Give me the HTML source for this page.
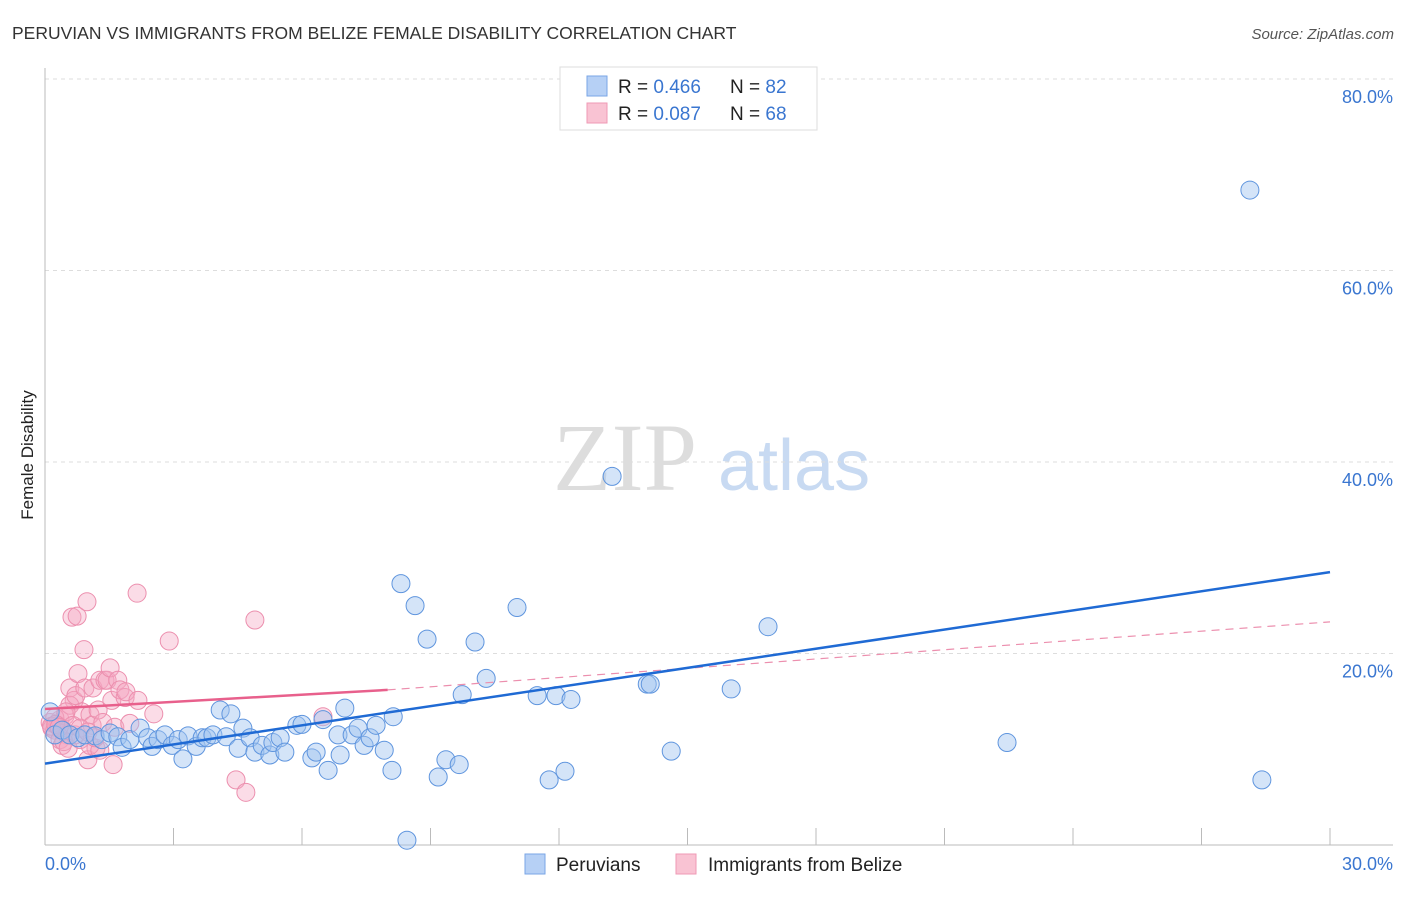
<!DOCTYPE html>
<html><head><meta charset="utf-8"><style>
body{margin:0;background:#fff;font-family:"Liberation Sans",sans-serif}
svg text{font-family:"Liberation Sans",sans-serif}
</style></head><body>
<svg width="1406" height="892" id="chart">
<text x="12" y="39" font-size="17.5" fill="#333">PERUVIAN VS IMMIGRANTS FROM BELIZE FEMALE DISABILITY CORRELATION CHART</text>
<text x="1394" y="39" font-size="15" fill="#555" font-style="italic" text-anchor="end">Source: ZipAtlas.com</text>
<g>
<text x="553" y="490" font-size="96" fill="#ddd" font-family="Liberation Serif" style="font-family:'Liberation Serif',serif">ZIP</text>
<text x="718" y="490" font-size="72" fill="#c8daf2">atlas</text>
</g>
<g id="grid"></g>
<g id="axes"></g>
<g id="marks"></g>
<text transform="translate(33,455) rotate(-90)" font-size="17" fill="#222" text-anchor="middle">Female Disability</text>
<g>
<rect x="560" y="67" width="257" height="63" fill="#fff" stroke="#ddd"/>
<rect x="587" y="76" width="20" height="20" fill="#b6d0f5" stroke="#7aa6e6"/>
<rect x="587" y="103" width="20" height="20" fill="#f9c3d3" stroke="#ef9ab4"/>
<text x="618" y="93" font-size="19" fill="#222">R = <tspan fill="#3a76d0">0.466</tspan></text>
<text x="730" y="93" font-size="19" fill="#222">N = <tspan fill="#3a76d0">82</tspan></text>
<text x="618" y="120" font-size="19" fill="#222">R = <tspan fill="#3a76d0">0.087</tspan></text>
<text x="730" y="120" font-size="19" fill="#222">N = <tspan fill="#3a76d0">68</tspan></text>
</g>
<g>
<rect x="525" y="854" width="20" height="20" fill="#b6d0f5" stroke="#7aa6e6"/>
<text x="556" y="871" font-size="19" fill="#222">Peruvians</text>
<rect x="676" y="854" width="20" height="20" fill="#f9c3d3" stroke="#ef9ab4"/>
<text x="708" y="871" font-size="19" fill="#222">Immigrants from Belize</text>
</g>
</svg>
<script>
const yTicks=[20,40,60,80];
const yTickLabels=["20.0%","40.0%","60.0%","80.0%"];
const xTicks=[0,3,6,9,12,15,18,21,24,27,30];
const blueX=[0.12,0.23,0.40,0.58,0.77,0.93,1.17,1.33,1.52,1.70,1.80,1.98,2.22,2.40,2.50,2.64,2.80,2.97,3.11,3.22,3.34,3.53,3.67,3.78,3.92,4.09,4.23,4.34,4.51,4.62,4.79,4.90,5.07,5.25,5.32,5.49,5.60,5.88,6.00,6.23,6.33,6.49,6.61,6.84,6.89,7.00,7.17,7.31,7.45,7.59,7.73,7.92,8.10,8.13,8.31,8.45,8.64,8.92,9.18,9.36,9.67,9.74,10.04,10.30,11.02,11.49,11.77,11.93,12.14,12.28,13.24,14.06,14.13,14.62,16.02,16.88,22.46,28.13,28.41];
const blueY=[13.9,11.5,12.0,11.5,11.2,11.5,11.4,11.0,11.7,11.3,10.2,11.0,12.2,11.2,10.3,11.0,11.5,10.4,11.0,9.0,11.4,10.3,11.2,11.2,11.5,14.1,11.3,13.7,10.1,12.2,11.2,9.7,10.4,9.4,10.7,11.2,9.7,12.5,12.6,9.1,9.7,13.1,7.8,11.5,9.4,14.3,11.5,12.2,10.4,11.2,12.5,9.9,7.8,13.4,27.3,0.5,25.0,21.5,7.1,8.9,8.4,15.7,21.2,17.4,24.8,15.6,6.8,15.6,7.7,15.2,38.5,16.8,16.8,9.8,16.3,22.8,10.7,68.4,6.8];
const pinkX=[0.12,0.16,0.23,0.30,0.35,0.42,0.47,0.51,0.58,0.63,0.68,0.58,0.72,0.75,0.77,0.82,0.86,0.91,0.93,0.98,1.00,1.05,1.10,1.12,1.19,1.24,1.28,1.35,1.40,1.45,1.52,1.56,1.59,1.63,1.70,1.75,1.87,1.89,1.98,2.17,2.15,2.54,2.90,4.46,4.69,4.90,6.49,0.35,0.40,0.44,0.54,1.05,1.28,0.70,0.23,0.49,0.65,0.82,1.00,1.17,0.15,0.25,0.33];
const pinkY=[12.8,12.2,12.0,12.5,13.1,12.0,13.5,11.5,16.4,23.8,15.1,14.6,15.6,23.9,17.9,11.0,13.9,20.4,16.4,25.4,8.9,13.6,12.5,16.4,10.1,14.1,17.2,12.8,17.2,17.2,18.5,15.1,8.4,12.3,17.2,16.2,15.4,16.0,12.7,15.1,26.3,13.7,21.3,6.8,5.5,23.5,13.4,11.0,10.4,10.8,10.1,10.4,9.9,11.5,13.3,13.9,12.5,12.2,11.8,11.2,12.4,12.6,12.3];
const blueTrend=[[0,8.5],[30,28.5]];
const pinkTrendSolid=[[0,14.2],[8,16.2]];
const pinkTrendDash=[[8,16.2],[30,23.3]];
const NS="http://www.w3.org/2000/svg";
const L=45,R=1330,T=79,B=845;
const sx=v=>L+(v/30)*(R-L);
const sy=v=>B-(v/80)*(B-T);
function mk(tag,attrs,parent){const e=document.createElementNS(NS,tag);for(const k in attrs)e.setAttribute(k,attrs[k]);parent.appendChild(e);return e;}
const grid=document.getElementById('grid'),axes=document.getElementById('axes'),marks=document.getElementById('marks');
yTicks.forEach((t,i)=>{
 const g=mk('line',{x1:L,x2:1393,y1:sy(t),y2:sy(t),stroke:'#ddd','stroke-dasharray':'4,4'},grid);
 
 
 const tx=mk('text',{x:1393,y:sy(t)+24,'text-anchor':'end','font-size':'18',fill:'#3a76d0'},axes);
 tx.textContent=yTickLabels[i];
 
 
});
const ya=mk('line',{x1:L,x2:L,y1:68,y2:B,stroke:'#bbb'},axes);


const xa=mk('line',{x1:L,x2:1393,y1:B,y2:B,stroke:'#bbb'},axes);


xTicks.forEach(t=>{
 const l=mk('line',{x1:sx(t),x2:sx(t),y1:828,y2:B,stroke:'#bbb'},axes);
 
 
});
const x0=mk('text',{x:45,y:870,'font-size':'18',fill:'#3a76d0'},axes);x0.textContent='0.0%';


const x1=mk('text',{x:1393,y:870,'font-size':'18',fill:'#3a76d0','text-anchor':'end'},axes);x1.textContent='30.0%';


pinkX.forEach((x,i)=>{
 const c=mk('circle',{cx:sx(x),cy:sy(pinkY[i]),r:9,fill:'rgba(246,168,194,0.4)',stroke:'#ec8fae','stroke-width':1},marks);
 
 
});
blueX.forEach((x,i)=>{
 const c=mk('circle',{cx:sx(x),cy:sy(blueY[i]),r:9,fill:'rgba(160,196,240,0.45)',stroke:'#5f95de','stroke-width':1},marks);
 
 
});
function line(p,attrs,name){const l=mk('line',Object.assign({x1:sx(p[0][0]),y1:sy(p[0][1]),x2:sx(p[1][0]),y2:sy(p[1][1])},attrs),marks);
 
 }
line(pinkTrendDash,{stroke:'#ec8fae','stroke-width':1.2,'stroke-dasharray':'8,6'},'belize-trend-extension');
line(pinkTrendSolid,{stroke:'#e8608c','stroke-width':2.5},'belize-trend-line');
line(blueTrend,{stroke:'#1f6ad4','stroke-width':2.5},'peruvian-trend-line');
</script>
</body></html>
